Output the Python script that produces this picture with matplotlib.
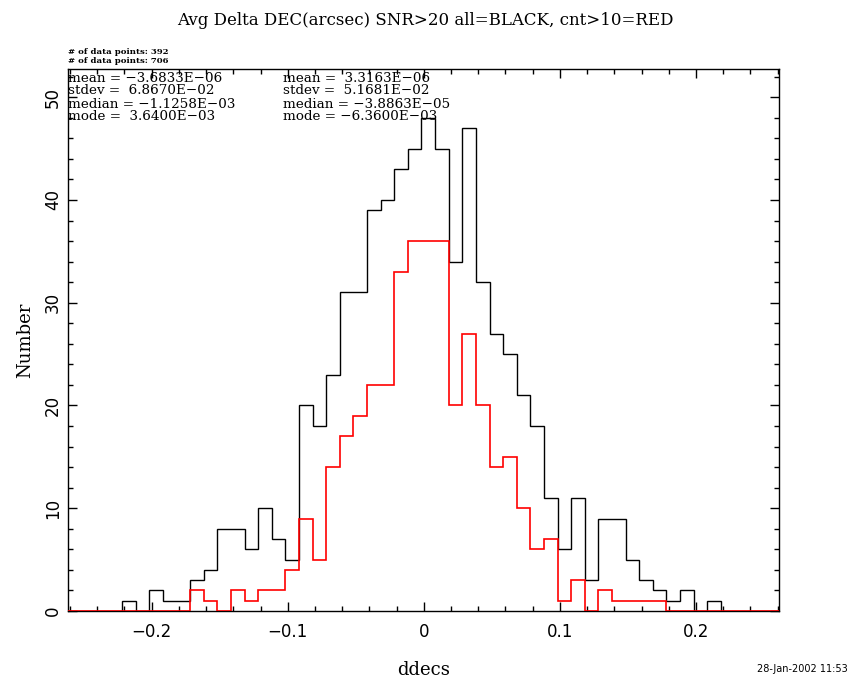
import numpy as np
import matplotlib
matplotlib.use("Agg")
import matplotlib.pyplot as plt
from matplotlib.ticker import MultipleLocator

# histogram counts, bins of width 0.01 starting at bin_start
bin_start = -0.2217
bin_width = 0.01
counts_all = [1, 0, 2, 1, 1, 3, 4, 8, 8, 6, 10, 7, 5, 20, 18, 23, 31, 31, 39, 40, 43,
              45, 48, 45, 34, 47, 32, 27, 25, 21, 18, 11, 6, 11, 3, 9, 9, 5, 3, 2, 1, 2, 0, 1]
counts_cnt = [0, 0, 0, 0, 0, 2, 1, 0, 2, 1, 2, 2, 4, 9, 5, 14, 17, 19, 22, 22, 33,
              36, 36, 36, 20, 27, 20, 14, 15, 10, 6, 7, 1, 3, 0, 2, 1, 1, 1, 1, 0, 0, 0, 0]

stats_all = ["mean = \u22123.6833E\u221206",
             "stdev =  6.8670E\u221202",
             "median = \u22121.1258E\u221203",
             "mode =  3.6400E\u221203"]
stats_cnt = ["mean =  3.3163E\u221206",
             "stdev =  5.1681E\u221202",
             "median = \u22123.8863E\u221205",
             "mode = \u22126.3600E\u221203"]
npoints = [392, 706]

title = "Avg Delta DEC(arcsec) SNR>20 all=BLACK, cnt>10=RED"
xlabel = "ddecs"
ylabel = "Number"
stamp = "28-Jan-2002 11:53"

serif = ["DejaVu Serif"]
sans = ["DejaVu Sans"]


def padded(counts, pad=6):
    # extend with empty bins so the baseline runs across the whole frame
    c = np.concatenate([np.zeros(pad), counts, np.zeros(pad)])
    edges = bin_start + bin_width * (np.arange(len(c) + 1) - pad)
    return c, edges


fig = plt.figure(figsize=(8.5, 6.8), dpi=100)
ax = fig.add_axes([0.0804, 0.1015, 0.8364, 0.7966])

c, e = padded(counts_all)
ax.stairs(c, e, color="black", linewidth=1.0, baseline=None, zorder=3)
c, e = padded(counts_cnt)
ax.stairs(c, e, color="#ff0000", linewidth=1.2, baseline=None, zorder=4)

ax.set_xlim(-0.2612, 0.2612)
ax.set_ylim(0, 52.72)

ax.xaxis.set_major_locator(MultipleLocator(0.1))
ax.xaxis.set_minor_locator(MultipleLocator(0.02))
ax.yaxis.set_major_locator(MultipleLocator(10))
ax.yaxis.set_minor_locator(MultipleLocator(2))
ax.tick_params(which="both", direction="in", top=True, right=True, width=1.0,
               colors="black")
ax.tick_params(which="major", length=6.5)
ax.tick_params(which="minor", length=3.3)
ax.tick_params(axis="x", pad=9, labelsize=12)
ax.tick_params(axis="y", pad=11, labelsize=12, labelrotation=90)
for lbl in ax.get_xticklabels() + ax.get_yticklabels():
    lbl.set_family(sans)
for lbl in ax.get_yticklabels():
    lbl.set_va("center")
    lbl.set_ha("center")

ax.xaxis.set_major_formatter(plt.FuncFormatter(
    lambda v, _: "0" if abs(v) < 1e-9 else f"{v:.1f}".replace("-", "\u2212")))

for s in ax.spines.values():
    s.set_linewidth(1.0)

ax.set_xlabel(xlabel, family=serif, fontsize=13, labelpad=14)
ax.set_ylabel(ylabel, family=serif, fontsize=13, labelpad=8)
ax.yaxis.set_label_coords(-34 / 712, 0.5)
fig.text(0.5, 0.982, title, ha="center", va="top", family=serif, fontsize=12)

# small header lines above the frame
fig.text(68 / 850, 1 - 52 / 680, f"# of data points: {npoints[0]}",
         ha="left", va="center", family=serif, fontsize=6.1, weight="bold")
fig.text(68 / 850, 1 - 61 / 680, f"# of data points: {npoints[1]}",
         ha="left", va="center", family=serif, fontsize=6.1, weight="bold")

for i, (a, b) in enumerate(zip(stats_all, stats_cnt)):
    y = 1 - (78 + 13 * i) / 680
    fig.text(68 / 850, y, a, ha="left", va="center", family=serif, fontsize=9.7)
    fig.text(283 / 850, y, b, ha="left", va="center", family=serif, fontsize=9.7)

fig.text(0.997, 1 - 669 / 680, stamp, ha="right", va="center",
         family=sans, fontsize=7)

fig.savefig("out.png", dpi=100, facecolor="white")
